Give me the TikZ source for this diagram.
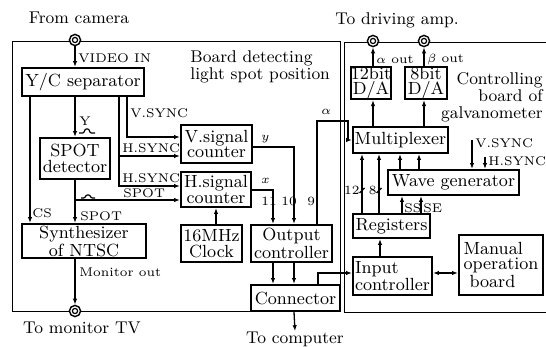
\documentclass[tikz,border=0pt]{standalone}
\usetikzlibrary{arrows.meta}
\newcommand{\boxf}{\fontsize{8.8}{7.8}\selectfont}
\newcommand{\lblf}{\fontsize{6.3}{6.3}\selectfont}
\newcommand{\ttlf}{\fontsize{8.5}{8.5}\selectfont}
\begin{document}
\begin{tikzpicture}[x=0.5pt,y=-0.5pt,
  box/.style={draw,line width=0.95pt,inner sep=0pt,align=center,font=\boxf},
  arr/.style={line width=0.65pt,-{Latex[length=3pt,width=2.2pt]}},
  arrtwo/.style={line width=0.65pt,{Latex[length=3pt,width=2.2pt]}-{Latex[length=3pt,width=2.2pt]}},
  wire/.style={line width=0.6pt},
  board/.style={line width=0.45pt},
  port/.style={circle,draw,fill=white,line width=0.7pt,minimum size=5.6pt,inner sep=0pt},
  lbl/.style={font=\lblf,inner sep=0pt,anchor=west},
  ttl/.style={font=\ttlf,inner sep=0pt}]
\useasboundingbox (0,0) rectangle (546,347);

% boards
\draw[board] (12,41) rectangle (340,311);
\draw[board] (546,42) -- (344,42) -- (344,312) -- (546,312);

% boxes, left board
\node[box,minimum width=61pt,minimum height=14pt] (yc) at (83,82) {Y/C separator};
\node[box,minimum width=35pt,minimum height=20.5pt] (spot) at (75,158.5) {SPOT\\detector};
\node[box,minimum width=62pt,minimum height=17pt] (syn) at (84,241) {Synthesizer\\of NTSC};
\node[box,minimum width=35.5pt,minimum height=19pt] (vc) at (216.5,144) {V.signal\\counter};
\node[box,minimum width=35pt,minimum height=17.5pt] (hc) at (216,189.5) {H.signal\\counter};
\node[box,minimum width=30.5pt,minimum height=18.5pt] (clk) at (211.5,243.5) {16MHz\\Clock};
\node[box,minimum width=40.5pt,minimum height=18.5pt] (oc) at (291.5,243.5) {Output\\controller};
\node[box,minimum width=44.5pt,minimum height=13pt] (con) at (295.5,298) {Connector};

% boxes, right board
\node[box,minimum width=19pt,minimum height=15pt] (da12) at (371,83) {12bit\\D/A};
\node[box,minimum width=21pt,minimum height=15pt] (da8) at (426,83) {8bit\\D/A};
\node[box,minimum width=47.5pt,minimum height=13pt] (mux) at (400.5,140) {Multiplexer};
\node[box,minimum width=65.5pt,minimum height=12.5pt] (wg) at (453.5,182.5) {Wave generator};
\node[box,minimum width=38.5pt,minimum height=12pt] (reg) at (391.5,226) {Registers};
\node[box,minimum width=39.5pt,minimum height=19pt,align=left] (ic) at (392.5,276) {Input\\controller};
\node[box,minimum width=42pt,minimum height=30pt,align=left] (man) at (501,265) {Manual\\operation\\\ board};

% ports
\node[port] (cam) at (75,40) {};
\node[port] (mon) at (75,311) {};
\node[port] (aout) at (373,41) {};
\node[port] (bout) at (424,41) {};
\foreach \p in {cam,mon,aout,bout} \draw[line width=0.6pt] (\p.center) circle (1.3pt);

% titles
\node[ttl] (tcam) at (79,18) {From camera};
\node[ttl] (tmon) at (82,328) {To monitor TV};
\node[ttl] (tamp) at (397,20) {To driving amp.};
\node[ttl] (tcomp) at (295,339) {To computer};
\node[ttl,align=left,anchor=west] (bd) at (190,67) {Board detecting\\light spot position};
\node[ttl,align=right,anchor=east] (cb) at (543,97) {Controlling\\board of\\galvanometer};

% left board connectors
\draw[arr] (cam.south) -- (cam.south |- yc.north);
\node[lbl] (lvid) at (78,58) {VIDEO IN};
\draw[arr] (75,0 |- yc.south) -- (75,0 |- spot.north);
\node[lbl] (ly) at (79,121) {Y};
\draw[wire,rounded corners=0.6pt] (79,133) -- (84,133) -- (85,129) -- (89,129) -- (90,133) -- (95,133);
\draw[arr] (30,0 |- yc.south) -- (30,0 |- syn.north);
\node[lbl] (lcs) at (32,213) {CS};
\draw[arr] (75,0 |- spot.south) -- (75,0 |- syn.north);
\node[lbl] (lspot1) at (80,216) {SPOT};
\coordinate (sbr) at (75,200);
\draw[arr] (sbr) -- (hc.west |- sbr);
\draw[wire,rounded corners=0.6pt] (81,198) -- (85,198) -- (86,195) -- (90,195) -- (91,198) -- (95,198);
\node[lbl] (lspot2) at (123,193) {SPOT};
\draw[arr] (127,0 |- yc.south) |- (vc.west |- 0,137);
\node[lbl] (lvs) at (130,113) {V.SYNC};
\draw[arr] (119,0 |- yc.south) |- (hc.west |- 0,186);
\coordinate (hbr) at (119,156);
\draw[arr] (hbr) -- (vc.west |- hbr);
\node[lbl] (lhs1) at (122,148) {H.SYNC};
\node[lbl] (lhs2) at (122,178) {H.SYNC};
\draw[arr] (216,0 |- clk.north) -- (216,0 |- hc.south);
\draw[arr] (vc.east |- 0,147) -| (294,0 |- oc.north);
\node[lbl] (lyy) at (261,139) {$y$};
\draw[arr] (hc.east |- 0,190) -| (273,0 |- oc.north);
\node[lbl] (lxx) at (261,181) {$x$};
\node[lbl] (l11) at (261,201) {11};
\node[lbl] (l10) at (281,201) {10};
\node[lbl] (l9) at (307,201) {9};
\draw[arr] (317,0 |- oc.north) |- (348,121) |- (mux.west);
\node[lbl] (lal) at (321,112) {$\alpha$};
\draw[arr] (273,0 |- oc.south) -- (273,0 |- con.north);
\draw[arr] (294,0 |- oc.south) -- (294,0 |- con.north);
\draw[arr] (318,0 |- con.north) |- (ic.west |- 0,273);
\draw[arr] (294,0 |- con.south) -- (tcomp.north);
\draw[arr] (75,0 |- syn.south) -- (mon.north);
\node[lbl] (lmon) at (79,272) {Monitor out};

% right board connectors
\draw[arr] (373,0 |- da12.north) -- (aout.south);
\draw[arr] (424,0 |- da8.north) -- (bout.south);
\node[lbl] (lao) at (376,60) {$\alpha$ out};
\node[lbl] (lbo) at (427,60) {$\beta$ out};
\draw[arr] (373,0 |- mux.north) -- (373,0 |- da12.south);
\draw[arr] (424,0 |- mux.north) -- (424,0 |- da8.south);
\draw[arr] (362,0 |- reg.north) -- (362,0 |- mux.south);
\draw[arr] (379,0 |- reg.north) -- (379,0 |- mux.south);
\draw[wire] (359.5,193) -- (364.5,188);
\draw[wire] (376.5,193) -- (381.5,188);
\node[lbl,anchor=east] (l12) at (360,190) {12};
\node[lbl,anchor=east] (l8) at (377,190) {8};
\draw[arr] (400,0 |- wg.north) -- (400,0 |- mux.south);
\draw[arr] (419,0 |- wg.north) -- (419,0 |- mux.south);
\draw[arr] (402,0 |- reg.north) -- (402,0 |- wg.south);
\draw[arr] (421,0 |- reg.north) -- (421,0 |- wg.south);
\node[lbl] (lss) at (404,208) {SS};
\node[lbl] (lse) at (423,208) {SE};
\coordinate (vsin) at (472,140);
\coordinate (hsin) at (485,157);
\draw[arr] (vsin) -- (vsin |- wg.north);
\draw[arr] (hsin) -- (hsin |- wg.north);
\node[lbl] (lvs2) at (475,143) {V.SYNC};
\node[lbl] (lhs3) at (488,161) {H.SYNC};
\draw[arr] (380,0 |- ic.north) -- (380,0 |- reg.south);
\draw[arrtwo] (ic.east |- 0,273) -- (man.west |- 0,273);
\end{tikzpicture}
\end{document}
